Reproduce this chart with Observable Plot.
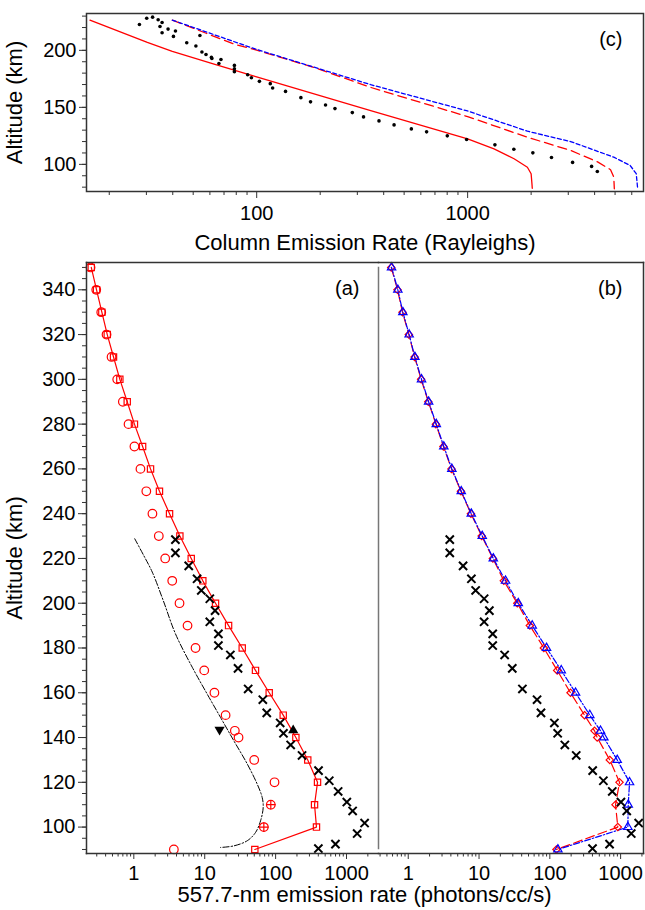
<!DOCTYPE html>
<html><head><meta charset="utf-8">
<script src="https://cdn.jsdelivr.net/npm/d3@7"></script>
<script src="https://cdn.jsdelivr.net/npm/@observablehq/plot@0.6"></script>
<style>
body{margin:0;background:#fff;}
#wrap{position:relative;width:645px;height:910px;background:#fff;font-family:"Liberation Sans",Arial,Helvetica,sans-serif;}
#wrap svg{position:absolute;overflow:visible;}
#xtitle{position:absolute;left:86px;width:557px;top:884px;text-align:center;font-size:22px;line-height:1;color:#000;}
</style></head><body><div id="wrap"><div id="xtitle">557.7-nm emission rate (photons/cc/s)</div></div>
<script>
// ---------- Panel (c): column emission rate ----------
const cSolidRate = [16.2, 30.3, 39.8, 62.8, 99, 347, 1000, 1334, 1660, 1920, 2000, 2020, 2025];
const cSolidAlt  = [226.5, 206.9, 199, 188, 176.9, 147.1, 122.4, 113.6, 104.9, 97.5, 91.8, 82, 79];
const cRedDashRate = [39.8, 78, 99, 187, 347, 1000, 1920, 3078, 4150, 4760, 4930, 4960];
const cRedDashAlt  = [226.5, 205.5, 200.3, 185, 167.5, 141.9, 123.8, 112.2, 102, 95.3, 88.8, 78.6];
const cBlueDashRate = [39.8, 99, 347, 1000, 1920, 3078, 4930, 5900, 6300, 6400];
const cBlueDashAlt  = [226.5, 201, 169.9, 146.8, 129.1, 120, 106.3, 99, 91.8, 78.6];
const cDotRate = [27.8, 30.1, 32.1, 34.1, 35.6, 34.8, 35.6, 38.0, 41.2, 40.3, 46.6, 51.5, 53.8, 55.0, 57.5, 61.0, 61.3, 66.2, 67.7, 78.4, 78.4, 78.4, 90.6, 94.4, 103, 116, 119, 137, 162, 180, 212, 235, 284, 321, 380, 448, 541, 639, 801, 989, 1347, 1656, 2038, 2498, 3145, 3870, 4120];
const cDotAlt  = [222.6, 228.2, 229.1, 226.8, 224.4, 220.9, 215.4, 218.6, 216.9, 212.2, 206.6, 203.8, 213.0, 198.5, 196.4, 193.8, 192.9, 188.5, 192.0, 186.8, 183.9, 181.3, 178.6, 176.0, 172.8, 170.8, 167.0, 164.0, 158.5, 154.8, 152.1, 148.9, 145.4, 141.6, 138.1, 134.6, 131.1, 128.5, 125.0, 121.8, 117.1, 113.3, 110.1, 106.0, 101.7, 98.2, 93.8];
const cYMajor = [100, 150, 200];
const cXMajor = [100, 1000];

// ---------- Panel (a) ----------
const aModelAlt = [350,340,330,320,310,300,290,280,270,260,250,240,230,220,210,200,190,180,170,160,150,140,130,120,110,100,90];
const aSquareRate = [0.251,0.298,0.354,0.422,0.517,0.635,0.807,1.02,1.33,1.72,2.30,3.19,4.46,6.45,9.40,14.2,21.7,33.8,52.0,81.2,128,193,284,390,354,377,50.9];
const aCircleAlt = [350,340,330,320,310,300,290,280,270,260,250,240,230,220,210,200,190,180,170,160,150,143,140,130,120,90];
const aCircleRate = [0.245,0.295,0.347,0.412,0.485,0.583,0.700,0.842,1.02,1.24,1.50,1.83,2.25,2.77,3.48,4.41,5.72,7.42,9.84,13.7,19.7,26.6,30.0,49.9,96.5,3.67];
const aCrossedAlt = [110, 100];
const aCrossedRate = [85.5, 68.2];
const aDashDotAlt  = [228.8, 221.3, 213.9, 201.2, 186.3, 171.4, 159.5, 149, 138.6, 128.2, 119.2, 113.2, 108.8, 102.8, 97.6, 93.9, 91.6, 90.9];
const aDashDotRate = [1.03, 1.38, 1.82, 2.6, 3.87, 6.67, 10.8, 16.7, 25.7, 39.8, 55, 64.7, 66.8, 61.3, 52.1, 39.8, 25.7, 16.7];
const aUpTriRate = [177], aUpTriAlt = [143.2];
const aDownTriRate = [16.2], aDownTriAlt = [143.5];

// observations (x markers), shown in (a) and (b)
const obsAlt  = [228.4,222.5,216.7,210.9,205.7,202.0,196.7,191.7,186.3,181.1,176.9,170.9,161.7,156.9,151.0,146.5,141.9,136.7,132.0,125.2,120.7,115.9,111.2,107.2,101.8,97.1,92.4,90.4];
const obsRate = [3.86,3.86,5.95,7.8,8.95,11.8,14.0,11.8,15.6,15.6,23.0,29.5,41.0,66,75,116,129,163,236,403,571,762,1010,1220,1800,1413,698,401];

// ---------- Panel (b) ----------
const bAlt = [350,340,330,320,310,300,290,280,270,260,250,240,230,220,210,200,190,180,170,160,150,143,140,130,120,110,100,90];
const bTriRate = [0.581,0.713,0.839,1.03,1.24,1.54,1.94,2.49,3.18,4.13,5.61,7.77,11.1,15.9,23.7,35.8,56.4,89.8,145,231,367,520,580,895,1337,1281,1265,130];
const bDiaRate = [0.575,0.705,0.83,1.02,1.23,1.52,1.92,2.46,3.14,4.08,5.55,7.68,10.9,15.7,22.4,34.7,52.2,82.3,127,196,309,428,467,703,965,847,913,124];

const abYMajor = [100,120,140,160,180,200,220,240,260,280,300,320,340];
const abXMajor = [1, 10, 100, 1000];

// ---------- helpers ----------
const FONT = '"Liberation Sans", Arial, Helvetica, sans-serif';
const zip = (xs, ys) => xs.map((x, i) => ({x, y: ys[i]}));
const logMinors = (lo, hi) => d3.range(-1, 5).flatMap(e => d3.range(2, 10).map(m => +(m * 10 ** e).toPrecision(2))).filter(v => v > lo && v < hi);
const linMinors = (lo, hi, step) => d3.range(Math.ceil(lo / step) * step, hi + 1e-9, step);
const AX = "#333";
const TICKFS = 20, TITLEFS = 22;
const style = {fontFamily: FONT, background: "none", overflow: "visible", color: "#000"};

const wrap = document.getElementById("wrap");
function place(svg, top) { svg.style.left = "0px"; svg.style.top = top + "px"; wrap.appendChild(svg); }

// ---------- Plot (c) ----------
const cX = [15.6, 6820], cY = [76.2, 232.3];
const plotC = Plot.plot({
  width: 645, height: 255,
  marginLeft: 86, marginRight: 2, marginTop: 13, marginBottom: 64,
  style,
  x: {type: "log", domain: cX},
  y: {domain: cY},
  marks: [
    Plot.axisY(linMinors(cY[0], cY[1], 10), {tickSize: 4, tickFormat: () => "", label: null, stroke: AX}),
    Plot.axisY(cYMajor, {tickSize: 7, tickPadding: 3, fontSize: TICKFS, tickFormat: d => String(d), label: null, stroke: AX}),
    Plot.axisY([], {tickSize: 0, fontSize: TITLEFS, label: "Altitude (km)", labelAnchor: "center", labelArrow: "none", labelOffset: 80}),
    Plot.axisX(logMinors(cX[0], cX[1]), {tickSize: 4, tickFormat: () => "", label: null, stroke: AX}),
    Plot.axisX(cXMajor, {tickSize: 7, tickPadding: 7, fontSize: TICKFS, tickFormat: d => String(d), label: null, stroke: AX}),
    Plot.axisX([], {tickSize: 0, fontSize: TITLEFS, label: "Column Emission Rate (Rayleighs)", labelAnchor: "center", labelArrow: "none", labelOffset: 58}),
    Plot.line(zip(cSolidRate, cSolidAlt), {x: "x", y: "y", stroke: "#ff0000", strokeWidth: 1.3}),
    Plot.line(zip(cRedDashRate, cRedDashAlt), {x: "x", y: "y", stroke: "#ff0000", strokeWidth: 1.3, strokeDasharray: "9,5"}),
    Plot.line(zip(cBlueDashRate, cBlueDashAlt), {x: "x", y: "y", stroke: "#0000ff", strokeWidth: 1.3, strokeDasharray: "4,2.5"}),
    Plot.dot(zip(cDotRate, cDotAlt), {x: "x", y: "y", r: 1.8, fill: "#000", stroke: null}),
    Plot.text(["(c)"], {frameAnchor: "top-right", dx: -21, dy: 18, fontSize: 20, lineAnchor: "top", textAnchor: "end", fill: "#000"}),
    Plot.frame({stroke: AX, strokeWidth: 1.5})
  ]
});
place(plotC, 0);

// ---------- Plot (a) ----------
const abY = [88.2, 352.2];
const aX = [0.215, 2826];
const plotA = Plot.plot({
  width: 645, height: 655,
  marginLeft: 86, marginRight: 267, marginTop: 7, marginBottom: 57,
  style,
  x: {type: "log", domain: aX},
  y: {domain: abY},
  marks: [
    Plot.axisY(linMinors(abY[0], abY[1], 5), {tickSize: 4, tickFormat: () => "", label: null, stroke: AX}),
    Plot.axisY(abYMajor, {tickSize: 8, tickPadding: 3, fontSize: TICKFS, tickFormat: d => String(d), label: null, stroke: AX}),
    Plot.axisY([], {tickSize: 0, fontSize: TITLEFS, label: "Altitude (km)", labelAnchor: "center", labelArrow: "none", labelOffset: 80}),
    Plot.axisX(logMinors(aX[0], aX[1]), {tickSize: 3.5, tickFormat: () => "", label: null, stroke: AX}),
    Plot.axisX(abXMajor, {tickSize: 6, tickPadding: 6, fontSize: TICKFS, tickFormat: d => String(d), label: null, stroke: AX}),
    Plot.line(zip(aDashDotRate, aDashDotAlt), {x: "x", y: "y", curve: "catmull-rom", stroke: "#000", strokeWidth: 1, strokeDasharray: "6,2,1.5,2"}),
    Plot.line(zip(aSquareRate, aModelAlt), {x: "x", y: "y", stroke: "#ff0000", strokeWidth: 1.2}),
    Plot.dot(zip(aSquareRate, aModelAlt), {x: "x", y: "y", symbol: "square2", r: 4, stroke: "#ff0000", strokeWidth: 1.2, fill: "none"}),
    Plot.dot(zip(aCircleRate, aCircleAlt), {x: "x", y: "y", symbol: "circle", r: 4.3, stroke: "#ff0000", strokeWidth: 1.2, fill: "none"}),
    Plot.dot(zip(aCrossedRate, aCrossedAlt), {x: "x", y: "y", symbol: "circle", r: 4.3, stroke: "#ff0000", strokeWidth: 1.2, fill: "none"}),
    Plot.dot(zip(aCrossedRate, aCrossedAlt), {x: "x", y: "y", symbol: "plus", r: 3.2, stroke: "#ff0000", strokeWidth: 1.2}),
    Plot.dot(zip(obsRate, obsAlt), {x: "x", y: "y", symbol: "times", r: 3.8, stroke: "#000", strokeWidth: 2}),
    Plot.dot(zip(aUpTriRate, aUpTriAlt), {x: "x", y: "y", symbol: "triangle", r: 3.8, fill: "#000", stroke: null}),
    Plot.dot(zip(aDownTriRate, aDownTriAlt), {x: "x", y: "y", symbol: "triangle", r: 3.8, fill: "#000", stroke: null, rotate: 180}),
    Plot.text(["(a)"], {frameAnchor: "top-right", dx: -19, dy: 18, fontSize: 20, lineAnchor: "top", textAnchor: "end", fill: "#000"}),
    Plot.frame({anchor: "top", stroke: AX, strokeWidth: 1.5}),
    Plot.frame({anchor: "bottom", stroke: AX, strokeWidth: 1.5}),
    Plot.frame({anchor: "left", stroke: AX, strokeWidth: 1.5})
  ]
});
place(plotA, 255);

// ---------- Plot (b) ----------
const bX = [0.38, 2105];
const plotB = Plot.plot({
  width: 645, height: 655,
  marginLeft: 378, marginRight: 2, marginTop: 7, marginBottom: 57,
  style,
  x: {type: "log", domain: bX},
  y: {domain: abY},
  marks: [
    Plot.axisX(logMinors(bX[0], bX[1]), {tickSize: 3.5, tickFormat: () => "", label: null, stroke: AX}),
    Plot.axisX(abXMajor, {tickSize: 6, tickPadding: 6, fontSize: TICKFS, tickFormat: d => String(d), label: null, stroke: AX}),
    Plot.axisY([], {tickSize: 0, label: null, tickFormat: () => ""}),
    Plot.line(zip(bDiaRate, bAlt), {x: "x", y: "y", stroke: "#ff0000", strokeWidth: 1.2, strokeDasharray: "9,4"}),
    Plot.line(zip(bTriRate, bAlt), {x: "x", y: "y", stroke: "#0000ff", strokeWidth: 1.2, strokeDasharray: "6,2,1.5,2"}),
    Plot.dot(zip(bDiaRate, bAlt), {x: "x", y: "y", symbol: "diamond2", r: 3.3, stroke: "#ff0000", strokeWidth: 1.2, fill: "none"}),
    Plot.dot(zip(bTriRate, bAlt), {x: "x", y: "y", symbol: "triangle2", r: 4, stroke: "#0000ff", strokeWidth: 1.2, fill: "none"}),
    Plot.dot(zip(obsRate, obsAlt), {x: "x", y: "y", symbol: "times", r: 3.8, stroke: "#000", strokeWidth: 2}),
    Plot.text(["(b)"], {frameAnchor: "top-right", dx: -21, dy: 18, fontSize: 20, lineAnchor: "top", textAnchor: "end", fill: "#000"}),
    Plot.frame({anchor: "left", stroke: "#777", strokeWidth: 1.5, insetTop: 5, insetBottom: 5}),
    Plot.frame({anchor: "top", stroke: AX, strokeWidth: 1.5}),
    Plot.frame({anchor: "bottom", stroke: AX, strokeWidth: 1.5}),
    Plot.frame({anchor: "right", stroke: AX, strokeWidth: 1.5})
  ]
});
place(plotB, 255);
</script></body></html>
